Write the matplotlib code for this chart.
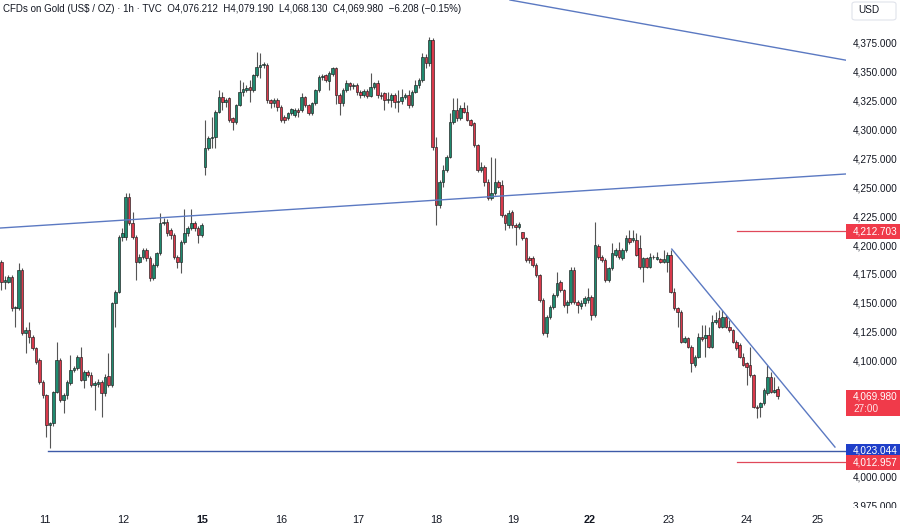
import matplotlib
matplotlib.use("Agg")
import matplotlib.pyplot as plt
import matplotlib.transforms as mtransforms
from matplotlib.patches import Rectangle, FancyBboxPatch

plt.rcParams['font.family'] = ['Liberation Sans', 'DejaVu Sans']

# ---------------- data (1h candles, TVC gold) ----------------
opens = [
    4186.5, 4169.2, 4169.2, 4173.5, 4146.1, 4146.1, 4179.3, 4124.5, 4127.4, 4121.6,
    4111.5, 4101.4, 4082.7, 4071.1, 4045.2, 4046.6, 4074.0, 4101.4, 4066.8, 4071.1,
    4081.2, 4092.8, 4094.2, 4104.3, 4084.1, 4091.3, 4088.4, 4079.8, 4080.7, 4082.7,
    4072.6, 4087.6, 4079.8, 4150.4, 4160.5, 4208.1, 4208.1, 4242.7, 4219.6, 4208.1,
    4186.5, 4190.8, 4196.6, 4189.3, 4172.1, 4183.6, 4193.7, 4219.6, 4221.1, 4213.9,
    4209.5, 4190.8, 4186.5, 4203.8, 4211.0, 4215.3, 4220.2, 4215.3, 4209.5,
    # 15th
    4268.6, 4284.5, 4293.2, 4294.5, 4316.2, 4329.2, 4324.9, 4327.8, 4310.5, 4307.6,
    4322.0, 4333.5, 4335.0, 4337.8, 4335.0, 4347.9, 4355.1, 4356.6, 4356.6, 4326.3,
    4323.8, 4326.3, 4320.5, 4311.9, 4310.5, 4314.8, 4313.3, 4317.7, 4317.7, 4329.2,
    4322.0, 4314.8, 4323.4, 4335.0, 4346.5, 4347.9, 4343.0, 4349.0, 4353.7, 4330.6,
    4323.4, 4335.0, 4340.7, 4338.0, 4339.3, 4333.5, 4330.6, 4334.0, 4330.0, 4337.8,
    4340.7, 4331.0, 4332.0, 4326.3, 4326.3, 4330.6, 4324.9, 4325.5, 4329.0, 4330.6,
    4322.0, 4333.5, 4339.3, 4343.6, 4363.8, 4358.0, 4378.2,
    # 18th - 19th
    4286.0, 4235.5, 4255.7, 4265.8, 4277.3, 4307.6, 4317.6, 4310.4, 4319.1, 4316.2,
    4309.0, 4306.1, 4287.4, 4265.8, 4268.6, 4255.7, 4241.3, 4245.6, 4255.7, 4252.8,
    4226.8, 4218.2, 4229.7, 4218.2, 4216.8, 4212.4, 4206.7, 4189.4, 4189.4, 4183.6,
    4175.0, 4153.3, 4124.5, 4138.9, 4147.5, 4157.6, 4169.2, 4162.0, 4149.0, 4151.9,
    4179.3, 4151.9, 4148.1, 4150.4, 4153.3, 4156.2,
    # 22nd onwards
    4140.4, 4200.0, 4190.2, 4187.9, 4170.6, 4180.7, 4192.3, 4196.6, 4189.4, 4196.6,
    4206.7, 4205.2, 4205.2, 4198.0, 4182.2, 4189.4, 4182.2, 4190.8, 4188.5, 4188.5,
    4186.5, 4186.5, 4192.3, 4160.5, 4146.1, 4143.2, 4117.3, 4120.2, 4113.0, 4097.1,
    4104.3, 4121.6, 4120.2, 4123.1, 4113.0, 4134.6, 4137.5, 4130.3, 4138.9, 4130.3,
    4127.4, 4117.3, 4114.4, 4104.3, 4098.6, 4097.1, 4088.5, 4061.1, 4061.1, 4063.9,
    4072.6, 4087.0, 4074.1, 4076.212,
]
highs = [
    4188.0, 4174.0, 4175.0, 4175.0, 4148.0, 4185.6, 4181.0, 4130.0, 4134.6, 4123.0,
    4113.0, 4103.0, 4084.0, 4072.0, 4048.0, 4075.0, 4117.3, 4103.0, 4073.0, 4084.0,
    4105.7, 4096.0, 4106.0, 4112.9, 4092.5, 4093.0, 4091.0, 4083.0, 4085.0, 4084.0,
    4089.0, 4107.2, 4152.0, 4162.0, 4210.0, 4216.0, 4245.6, 4245.6, 4229.7, 4210.0,
    4193.0, 4198.0, 4198.0, 4191.0, 4185.0, 4195.0, 4228.3, 4224.0, 4223.0, 4216.0,
    4211.0, 4192.0, 4205.0, 4232.0, 4217.0, 4232.0, 4222.0, 4217.0, 4220.0,
    4309.0, 4295.0, 4311.9, 4318.0, 4335.0, 4333.5, 4328.0, 4329.0, 4312.0, 4323.0,
    4343.6, 4342.0, 4339.0, 4343.6, 4349.0, 4368.1, 4366.7, 4359.0, 4358.0, 4327.0,
    4328.0, 4328.0, 4322.0, 4313.0, 4316.0, 4319.0, 4319.1, 4319.0, 4332.1, 4330.0,
    4323.0, 4325.0, 4336.0, 4347.9, 4349.0, 4349.0, 4351.0, 4355.0, 4355.0, 4332.0,
    4337.0, 4343.6, 4342.0, 4341.0, 4341.0, 4335.0, 4336.0, 4336.0, 4349.4, 4342.0,
    4343.6, 4333.0, 4333.0, 4333.5, 4332.0, 4332.0, 4335.0, 4336.0, 4332.0, 4335.0,
    4335.0, 4343.6, 4345.0, 4366.7, 4366.0, 4381.1, 4379.6,
    4294.6, 4257.0, 4270.1, 4279.0, 4314.8, 4327.7, 4327.7, 4322.0, 4324.9, 4322.0,
    4310.0, 4307.0, 4288.5, 4273.0, 4270.0, 4258.0, 4277.3, 4275.9, 4257.1, 4257.1,
    4228.0, 4231.2, 4231.0, 4220.0, 4221.0, 4212.4, 4208.0, 4191.0, 4191.0, 4185.0,
    4176.0, 4155.0, 4140.0, 4149.0, 4159.0, 4177.8, 4171.0, 4163.0, 4153.0, 4182.0,
    4182.2, 4153.0, 4153.0, 4157.0, 4163.4, 4158.0,
    4221.1, 4202.0, 4192.0, 4189.4, 4182.0, 4202.3, 4198.0, 4203.8, 4198.0, 4209.6,
    4213.9, 4213.9, 4211.0, 4209.6, 4190.8, 4190.8, 4193.7, 4192.3, 4195.1, 4190.0,
    4196.6, 4195.1, 4196.6, 4163.4, 4147.0, 4144.7, 4122.0, 4121.6, 4114.4, 4106.0,
    4124.5, 4131.7, 4131.7, 4130.3, 4140.4, 4143.2, 4144.7, 4144.7, 4140.4, 4136.0,
    4128.5, 4118.5, 4116.0, 4107.2, 4100.0, 4113.0, 4089.0, 4062.5, 4065.5, 4077.0,
    4097.1, 4091.4, 4087.0, 4079.19,
]
lows = [
    4162.0, 4163.0, 4168.0, 4144.0, 4130.2, 4145.0, 4123.0, 4107.2, 4115.8, 4110.0,
    4098.0, 4081.0, 4069.0, 4035.1, 4025.0, 4044.0, 4073.0, 4065.0, 4055.3, 4068.0,
    4080.0, 4091.0, 4093.0, 4083.0, 4076.9, 4087.0, 4078.0, 4058.2, 4078.0, 4052.4,
    4070.0, 4078.0, 4078.0, 4130.2, 4159.0, 4204.0, 4205.0, 4218.0, 4206.0, 4170.6,
    4185.0, 4189.0, 4187.0, 4170.0, 4170.6, 4182.0, 4192.0, 4218.0, 4209.0, 4206.0,
    4189.0, 4180.7, 4176.4, 4202.0, 4209.0, 4214.0, 4213.0, 4202.3, 4208.0,
    4261.4, 4283.0, 4284.5, 4284.5, 4315.0, 4317.7, 4320.0, 4307.0, 4300.4, 4306.0,
    4321.0, 4330.0, 4333.0, 4324.9, 4333.0, 4346.0, 4345.0, 4354.0, 4324.0, 4319.1,
    4320.0, 4317.0, 4307.0, 4306.1, 4309.0, 4313.0, 4311.9, 4312.0, 4316.0, 4320.0,
    4313.3, 4313.0, 4322.0, 4333.0, 4344.0, 4342.0, 4335.0, 4347.0, 4323.0, 4313.3,
    4321.0, 4333.0, 4335.0, 4336.0, 4331.0, 4327.8, 4329.0, 4328.0, 4329.0, 4336.0,
    4328.0, 4327.0, 4317.7, 4324.0, 4320.5, 4319.1, 4316.2, 4323.0, 4327.0, 4319.0,
    4320.5, 4332.0, 4337.0, 4342.0, 4354.0, 4356.0, 4283.0,
    4218.2, 4233.0, 4251.3, 4264.0, 4276.0, 4306.0, 4308.0, 4309.0, 4315.0, 4308.0,
    4303.5, 4286.0, 4264.0, 4264.0, 4252.0, 4239.8, 4239.8, 4244.0, 4250.0, 4225.0,
    4213.9, 4216.0, 4216.0, 4200.9, 4215.0, 4205.0, 4186.0, 4185.0, 4182.0, 4173.5,
    4152.0, 4123.0, 4121.6, 4137.0, 4146.0, 4156.0, 4160.0, 4147.0, 4141.8, 4150.0,
    4150.0, 4141.8, 4146.0, 4148.0, 4151.0, 4136.0,
    4138.9, 4189.0, 4186.0, 4169.0, 4169.2, 4179.0, 4190.8, 4189.0, 4188.0, 4195.0,
    4202.0, 4203.8, 4191.0, 4180.0, 4169.2, 4181.0, 4181.0, 4188.5, 4187.9, 4185.0,
    4185.0, 4177.9, 4159.0, 4145.0, 4130.3, 4116.0, 4115.9, 4111.5, 4091.4, 4095.7,
    4103.0, 4118.0, 4104.3, 4111.5, 4111.5, 4133.0, 4129.0, 4129.0, 4129.0, 4126.0,
    4116.0, 4110.0, 4103.0, 4096.0, 4079.8, 4087.0, 4059.6, 4051.0, 4052.4, 4062.5,
    4071.0, 4072.6, 4072.6, 4068.13,
]
closes = [
    4169.2, 4171.0, 4173.5, 4146.1, 4147.0, 4179.3, 4124.5, 4127.4, 4121.6, 4111.5,
    4100.0, 4082.7, 4071.1, 4045.2, 4046.6, 4074.0, 4101.4, 4066.8, 4071.1, 4082.7,
    4092.8, 4094.2, 4104.3, 4084.1, 4091.3, 4088.4, 4079.8, 4081.2, 4082.7, 4072.6,
    4087.0, 4079.8, 4150.4, 4160.5, 4208.1, 4211.0, 4242.7, 4219.6, 4208.1, 4186.5,
    4190.8, 4196.6, 4189.3, 4172.1, 4183.6, 4193.7, 4219.6, 4221.1, 4211.0, 4209.5,
    4190.8, 4186.5, 4203.8, 4211.0, 4215.3, 4220.2, 4215.3, 4209.5, 4218.2,
    4284.5, 4293.2, 4294.5, 4316.2, 4329.2, 4324.9, 4326.3, 4309.0, 4307.6, 4322.0,
    4333.5, 4335.7, 4337.0, 4335.0, 4347.9, 4355.1, 4356.6, 4357.0, 4326.3, 4323.8,
    4326.3, 4320.5, 4309.0, 4309.0, 4314.8, 4318.3, 4317.7, 4316.2, 4329.2, 4322.0,
    4314.8, 4323.4, 4335.0, 4346.5, 4347.0, 4343.6, 4349.4, 4353.7, 4330.6, 4323.4,
    4335.0, 4340.7, 4338.0, 4339.3, 4333.5, 4330.6, 4334.0, 4330.0, 4337.8, 4340.7,
    4330.6, 4330.0, 4326.3, 4327.0, 4330.6, 4324.9, 4325.5, 4329.2, 4330.6, 4322.0,
    4333.5, 4339.3, 4343.6, 4363.8, 4358.0, 4378.2, 4286.0,
    4235.5, 4255.7, 4265.8, 4277.3, 4307.6, 4317.6, 4310.4, 4319.1, 4316.2, 4309.0,
    4304.7, 4287.4, 4265.8, 4268.6, 4255.7, 4241.3, 4245.6, 4255.7, 4251.3, 4226.8,
    4219.6, 4228.3, 4218.2, 4216.8, 4219.0, 4206.7, 4187.9, 4187.9, 4183.6, 4175.0,
    4153.3, 4124.5, 4138.9, 4147.5, 4157.6, 4167.7, 4162.0, 4149.0, 4151.9, 4179.3,
    4151.9, 4149.0, 4151.0, 4154.8, 4156.2, 4140.3,
    4200.9, 4190.2, 4187.9, 4170.6, 4180.7, 4193.7, 4196.6, 4190.8, 4196.6, 4206.7,
    4203.8, 4206.7, 4192.3, 4182.2, 4189.4, 4182.2, 4190.8, 4190.2, 4190.2, 4186.5,
    4188.5, 4192.3, 4160.5, 4146.1, 4143.2, 4117.3, 4120.2, 4113.0, 4098.6, 4104.3,
    4121.6, 4119.3, 4123.1, 4113.0, 4134.6, 4136.0, 4130.3, 4138.9, 4130.3, 4127.4,
    4117.3, 4111.5, 4104.3, 4097.1, 4095.7, 4088.5, 4061.1, 4059.6, 4063.9, 4075.5,
    4087.0, 4074.1, 4075.5, 4069.98,
]

day_labels = ['11', '12', '15', '16', '17', '18', '19', '22', '23', '24', '25']
day_bold = [False, False, True, False, False, False, False, True, False, False, False]
day_bars = [12.6, 35.2, 58.1, 81.0, 103.3, 126.0, 148.3, 170.5, 193.5, 216.1, 236.7]

price_ticks = [3975, 4000, 4025, 4050, 4075, 4100, 4125, 4150, 4175, 4200,
               4225, 4250, 4275, 4300, 4325, 4350, 4375]

support_level = 4023.044
red_levels = [4212.703, 4012.957]
last_price = 4069.980
countdown = '27:00'

# drawn trendlines (bar index, price)
upper_line = [(147.4, 4412.8), (244.5, 4360.9)]
rising_line = [(-0.43, 4215.6), (244.5, 4262.3)]
down_line = [(194.3, 4197.4), (241.6, 4026.2)]
support_start = 13.5
red_start = 213.2

# ---------------- figure ----------------
W, H = 900, 528
fig = plt.figure(figsize=(W / 100, H / 100), dpi=100)
fig.patch.set_facecolor('white')

plot_right_px = 846
plot_bottom_px = 508
ax = fig.add_axes([0, 1 - plot_bottom_px / H, plot_right_px / W, plot_bottom_px / H])
ax.set_facecolor('white')
ax.set_xlim(-0.43, 244.8)
ax.set_ylim(3973.5, 4412.8)
for s in ax.spines.values():
    s.set_visible(False)

GREEN = '#1f8a6f'
RED = '#d9394b'
EDGE = '#1c1c1c'
WICK = '#555555'

n = len(closes)
xs = list(range(n))
ax.vlines(xs, lows, highs, color=WICK, linewidth=0.8, zorder=2)
for i in range(n):
    o, c = opens[i], closes[i]
    up = c >= o
    bottom = min(o, c)
    height = max(abs(c - o), 0.6)
    ax.add_patch(Rectangle((i - 0.37, bottom), 0.74, height,
                           facecolor=GREEN if up else RED,
                           edgecolor=EDGE, linewidth=0.45, zorder=3))

LINE_BLUE = '#5b79c2'
ax.axline(upper_line[0], upper_line[1], color=LINE_BLUE, linewidth=1.0, zorder=4)
ax.axline(rising_line[0], rising_line[1], color=LINE_BLUE, linewidth=1.0, zorder=4)
ax.plot([down_line[0][0], down_line[1][0]], [down_line[0][1], down_line[1][1]],
        color=LINE_BLUE, linewidth=1.0, zorder=4)
ax.plot([support_start, 260], [support_level, support_level],
        color='#3d5aa8', linewidth=1.0, zorder=4)
for lv in red_levels:
    ax.plot([red_start, 260], [lv, lv], color='#e0485a', linewidth=0.9, zorder=4)

ax.set_xticks(day_bars)
ax.set_xticklabels(day_labels)
ax.tick_params(axis='x', length=0, pad=5, labelsize=7.8, labelcolor='#131722')
for lbl, b in zip(ax.get_xticklabels(), day_bold):
    if b:
        lbl.set_fontweight('bold')
ax.set_yticks([])

# ---------------- price scale ----------------
pax = fig.add_axes([plot_right_px / W, 1 - plot_bottom_px / H,
                    (W - plot_right_px) / W, plot_bottom_px / H], sharey=ax)
pax.set_xlim(0, 1)
pax.axis('off')
tr = mtransforms.blended_transform_factory(pax.transAxes, pax.transData)

box_half = 6.2
last_top = last_price + 5.5
last_bot = last_price - 17.0
covered = [(red_levels[0] - box_half, red_levels[0] + box_half),
           (support_level - box_half, support_level + box_half),
           (red_levels[1] - box_half, red_levels[1] + box_half),
           (last_bot, last_top)]
for p in price_ticks:
    # labels hidden behind the coloured markers are left out, as on the scale
    if any(lo - 4 <= p <= hi + 4 for lo, hi in covered):
        continue
    pax.text(0.13, p, f'{p:,.3f}', transform=tr, ha='left', va='center',
             fontsize=7.2, color='#131722', clip_on=True, zorder=2)

def label_box(price, text, color, half=box_half):
    pax.add_patch(Rectangle((0.0, price - half), 1.0, 2 * half, transform=tr,
                            facecolor=color, edgecolor='none', zorder=5, clip_on=False))
    pax.text(0.13, price, text, transform=tr, ha='left', va='center',
             fontsize=7.2, color='white', zorder=6)

label_box(red_levels[0], f'{red_levels[0]:,.3f}', '#f03a4a')
label_box(support_level, f'{support_level:,.3f}', '#1f3fc9')
label_box(red_levels[1], f'{red_levels[1]:,.3f}', '#f03a4a')
# last price box with countdown
pax.add_patch(Rectangle((0.0, last_bot), 1.0, last_top - last_bot, transform=tr,
                        facecolor='#f03a4a', edgecolor='none', zorder=5))
pax.text(0.13, last_price - 0.3, f'{last_price:,.3f}', transform=tr, ha='left',
         va='center', fontsize=7.2, color='white', zorder=6)
pax.text(0.13, last_price - 10.8, countdown, transform=tr, ha='left',
         va='center', fontsize=7.2, color='#ffe3e6', zorder=6)

# USD box
fig.patches.append(FancyBboxPatch((852 / W, 1 - 20 / H), 44 / W, 18 / H,
                                  boxstyle='round,pad=0,rounding_size=0.004',
                                  transform=fig.transFigure, facecolor='white',
                                  edgecolor='#e0e3eb', linewidth=0.8))
fig.text(858 / W, 1 - 10 / H, 'USD', ha='left', va='center', fontsize=7.2,
         color='#131722')

# header
fig.text(3 / W, 1 - 9 / H,
         'CFDs on Gold (US$ / OZ) · 1h · TVC  O4,076.212  H4,079.190  '
         'L4,068.130  C4,069.980  −6.208 (−0.15%)',
         ha='left', va='center', fontsize=7.0, color='#131722')

fig.savefig('out.png', dpi=100, facecolor='white')
